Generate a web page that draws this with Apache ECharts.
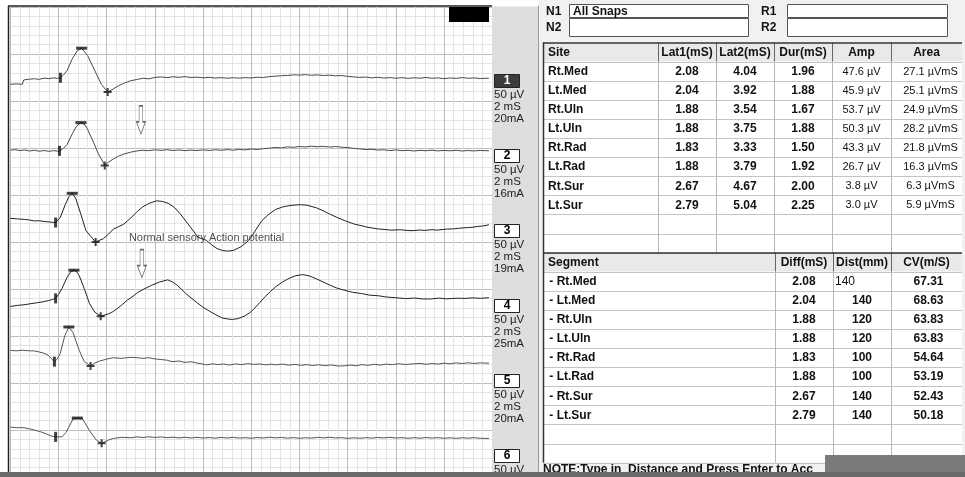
<!DOCTYPE html>
<html>
<head>
<meta charset="utf-8">
<script src="https://cdn.jsdelivr.net/npm/echarts@6/dist/echarts.min.js"></script>
<style>
  html, body { margin: 0; padding: 0; background: #fff; }
  #chart { width: 965px; height: 477px; }
</style>
</head>
<body>
<div id="chart"></div>
<script>
// ---- table data ----
const sites = ['Rt.Med', 'Lt.Med', 'Rt.Uln', 'Lt.Uln', 'Rt.Rad', 'Lt.Rad', 'Rt.Sur', 'Lt.Sur'];
const lat1  = [2.08, 2.04, 1.88, 1.88, 1.83, 1.88, 2.67, 2.79];
const lat2  = [4.04, 3.92, 3.54, 3.75, 3.33, 3.79, 4.67, 5.04];
const dur   = [1.96, 1.88, 1.67, 1.88, 1.50, 1.92, 2.00, 2.25];
const amp   = [47.6, 45.9, 53.7, 50.3, 43.3, 26.7, 3.8, 3.0];
const area  = [27.1, 25.1, 24.9, 28.2, 21.8, 16.3, 6.3, 5.9];
const diff  = [2.08, 2.04, 1.88, 1.88, 1.83, 1.88, 2.67, 2.79];
const dist  = [140, 140, 120, 120, 100, 100, 140, 140];
const cv    = [67.31, 68.63, 63.83, 63.83, 54.64, 53.19, 52.43, 50.18];

// ---- trace settings (channel labels) ----
const traceNo   = ['1', '2', '3', '4', '5', '6'];
const sensLabel = ['50 µV', '50 µV', '50 µV', '50 µV', '50 µV', '50 µV'];
const sweepLabel = ['2 mS', '2 mS', '2 mS', '2 mS', '2 mS', '2 mS'];
const stimLabel = ['20mA', '16mA', '19mA', '25mA', '20mA', '20mA'];

// ---- waveforms: [ms, µV relative to the trace baseline] ----
const trace1 = [[0,-6.2],[0.25,-5.8],[0.5,-6.2],[0.56,-1.6],[0.75,-0.9],[1.0,-0.3],[1.2,-1.0],[1.4,0.4],[1.6,-0.2],[1.8,0.6],[1.95,0.1],[2.08,0.7],[2.2,3.5],[2.36,8.6],[2.57,20.8],[2.78,29.5],[2.96,32.2],[3.21,24.3],[3.5,8.6],[3.78,-6.2],[4.04,-14.5],[4.28,-11.1],[4.5,-7.6],[4.71,-5.2],[5.0,-2.4],[5.28,-1.0],[5.5,0.2],[5.75,-0.4],
  [6.0,1.1],[6.25,1.6],[6.5,0.9],[6.75,1.8],[7.0,1.2],[7.25,1.9],[7.5,1.0],[7.75,1.4],[8.0,0.6],[8.25,1.2],[8.5,0.4],[8.75,0.9],[9.0,0.2],[9.25,0.8],[9.5,0.3],[9.75,0.9],[10.0,0.5],[10.25,1.3],[10.5,1.0],[10.75,2.0],[11.0,2.4],[11.25,2.9],[11.5,3.2],[11.75,3.8],[12.0,3.6],[12.25,4.0],[12.5,3.4],[12.75,3.8],[13.0,3.1],[13.25,3.5],[13.5,2.8],[13.75,3.1],[14.0,2.2],[14.25,1.6],[14.5,1.1],[14.75,1.5],[15.0,0.6],[15.25,1.2],[15.5,0.4],[15.75,0.9],[16.0,0.2],[16.25,0.8],[16.5,0.1],[16.75,0.7],[17.0,0.3],[17.25,1.0],[17.5,0.2],[17.75,0.6],[18.0,-0.2],[18.25,0.5],[18.5,0.1],[18.75,0.9],[19.0,0.2],[19.25,0.6],[19.5,-0.1],[19.86,0.3]];

const trace2 = [[0,0.7],[0.2,1.2],[0.4,0.3],[0.6,0.9],[0.8,-0.2],[1.0,0.6],[1.2,-0.4],[1.4,0.3],[1.6,-0.5],[1.8,0.2],[1.95,-0.3],[2.04,0],[2.2,2.5],[2.36,6.9],[2.57,18],[2.74,26],[2.93,30],[3.1,27.5],[3.21,22.5],[3.43,10.4],[3.64,-2.4],[3.92,-15.5],[4.07,-12.1],[4.28,-8.6],[4.5,-5.5],[4.71,-3.5],[5.0,-1.4],[5.28,0],[5.5,0.6],[5.75,0.2],
  [6.0,1.1],[6.25,0.5],[6.5,1.2],[6.75,0.4],[7.0,0.9],[7.25,0.2],[7.5,0.8],[7.75,0.3],[8.0,1.0],[8.25,0.4],[8.5,1.1],[8.75,0.6],[9.0,1.3],[9.25,0.7],[9.5,1.5],[9.75,1.0],[10.0,1.9],[10.25,1.4],[10.5,2.3],[10.75,2.8],[11.0,3.6],[11.25,3.1],[11.5,4.2],[11.75,3.7],[12.0,4.6],[12.25,4.1],[12.5,4.9],[12.75,4.3],[13.0,4.8],[13.25,4.0],[13.5,4.6],[13.75,3.8],[14.0,3.5],[14.25,2.6],[14.5,2.1],[14.75,1.4],[15.0,1.6],[15.25,0.8],[15.5,1.1],[15.75,0.3],[16.0,0.9],[16.25,0.2],[16.5,0.6],[16.75,-0.2],[17.0,0.5],[17.25,0.1],[17.5,0.7],[17.75,-0.1],[18.0,0.4],[18.25,0.0],[18.5,0.6],[18.75,-0.2],[19.0,0.3],[19.25,-0.1],[19.5,0.4],[19.86,0]];

const trace3 = [[0,6.2],[0.3,5.6],[0.6,5.0],[0.8,4.4],[1.0,3.4],[1.2,3.6],[1.43,2.8],[1.65,2.2],[1.88,1.7],[2.07,6.9],[2.28,20.7],[2.43,29.3],[2.57,32.8],[2.71,27.6],[2.93,10.4],[3.14,-6.9],[3.31,-12.1],[3.54,-19],[3.86,-15.5],[4.08,-10.5],[4.28,-5.2],[4.5,-2.6],[4.71,0],[5.0,6.5],[5.28,13.8],[5.5,18.5],[5.75,22],[6.07,24.8],[6.3,24.2],[6.55,22.2],[6.8,18],[7.05,11],[7.28,3.4],[7.5,-4],[7.78,-13.8],[8.0,-16],[8.14,-17.3],[8.35,-22],[8.57,-25.9],[8.8,-28],[9.0,-28.7],[9.25,-28],[9.57,-24.1],[9.8,-19.5],[10.0,-13.8],[10.2,-5.5],[10.43,3.4],[10.7,10],[11.0,15.5],[11.3,18.3],[11.6,19.8],[12.0,20.7],[12.3,20.2],[12.71,17.3],[13.0,14],[13.28,10.4],[13.6,6.6],[13.9,3.5],[14.28,0],[14.6,-1.8],[14.8,-3.2],[15.28,-5.2],[15.6,-5.8],[15.8,-6.4],[16.2,-6.0],[16.5,-6.8],[16.71,-6.9],[17.0,-6.3],[17.2,-6.6],[17.5,-5.9],[17.7,-6.4],[18.14,-5.2],[18.4,-5.0],[18.6,-4.4],[19.0,-3.6],[19.2,-3.3],[19.4,-2.4],[19.6,-2.0],[19.86,-0.7]];

const trace4 = [[0,-8.6],[0.3,-7.4],[0.57,-6.8],[0.85,-5.6],[1.14,-4.5],[1.35,-3.6],[1.57,-2.4],[1.75,-1.2],[1.88,0],[2.0,4.0],[2.14,10.4],[2.36,22.5],[2.5,28],[2.64,30],[2.75,28.5],[2.86,24.2],[3.07,10.4],[3.28,-5.2],[3.5,-14.5],[3.75,-18.9],[4.07,-16.6],[4.25,-14.2],[4.43,-11],[4.65,-6.5],[4.86,-1.7],[5.05,1.5],[5.28,6.2],[5.55,10],[5.86,13.9],[6.2,17.5],[6.53,19.7],[6.73,17.5],[6.93,13.9],[7.1,9.8],[7.28,5.2],[7.5,0.5],[7.78,-5.2],[8.0,-9.5],[8.28,-13.8],[8.5,-17],[8.78,-20.7],[9.0,-21.8],[9.21,-22.4],[9.45,-21.5],[9.71,-18.9],[9.95,-15],[10.14,-10.4],[10.35,-4.5],[10.57,1.8],[10.8,7.5],[11.0,12.1],[11.3,17.5],[11.57,21.4],[11.85,24.2],[12.14,25.3],[12.4,24],[12.71,20.7],[13.0,17.2],[13.28,13.9],[13.55,11],[13.86,8.7],[14.2,6.5],[14.57,5.2],[14.9,3.5],[15.28,2.8],[15.6,1.5],[16.0,0.7],[16.4,-0.2],[16.8,0.4],[17.1,-0.6],[17.43,-0.6],[17.8,0.3],[18.1,-0.5],[18.5,0.2],[18.86,0],[19.2,0.6],[19.5,0.1],[19.86,0.7]];

const trace5 = [[0,13.8],[0.25,13.2],[0.5,13.9],[0.75,13.3],[1.0,13.1],[1.2,12.0],[1.4,10.6],[1.57,8.6],[1.7,5.0],[1.83,1.7],[1.95,4.5],[2.07,10.3],[2.26,29.3],[2.43,38.6],[2.6,32.8],[2.86,13.8],[3.07,1.7],[3.33,-2.8],[3.5,0.2],[3.71,2.4],[4.0,4.4],[4.28,5.9],[4.6,5.2],[5.0,6.3],[5.28,5.9],[5.5,5.2],[5.75,5.9],[6.0,4.6],[6.25,4.0],[6.5,3.3],[6.71,1.7],[7.0,2.4],[7.25,0.9],[7.5,1.6],[7.75,0.2],[8.0,-0.9],[8.14,-1.7],[8.4,-0.6],[8.6,-1.4],[8.85,-0.8],[9.1,-1.9],[9.35,-0.7],[9.6,-1.5],[9.85,-0.4],[10.1,-1.2],[10.35,-0.8],[10.6,-1.7],[10.85,-1.0],[11.0,-1.7],[11.3,-0.9],[11.55,-2.0],[11.8,-1.2],[12.05,-2.2],[12.3,-1.4],[12.55,-2.4],[12.8,-1.6],[13.05,-2.6],[13.3,-1.8],[13.6,-2.9],[13.86,-2.8],[14.1,-1.9],[14.35,-2.6],[14.6,-1.5],[14.85,-2.2],[15.1,-1.1],[15.35,-1.9],[15.6,-0.9],[15.85,-1.6],[16.1,-0.5],[16.4,-1.3],[16.71,-0.7],[17.0,-0.2],[17.25,-1.1],[17.5,-0.3],[17.75,-0.9],[18.0,0.2],[18.25,-0.6],[18.5,0.4],[18.75,-0.3],[19.0,0.5],[19.25,-0.2],[19.5,0.4],[19.86,0]];

const trace6 = [[0,12.1],[0.25,11.5],[0.57,11.4],[0.8,10.2],[1.0,9.0],[1.28,6.9],[1.5,4.8],[1.7,2.6],[1.88,1.7],[2.14,1.7],[2.3,6],[2.43,12.1],[2.6,20.7],[2.78,21.7],[3.0,20.7],[3.28,8.6],[3.57,-1.7],[3.79,-5.2],[4.07,-1.7],[4.28,0],[4.6,1.2],[5.0,0.8],[5.28,1.7],[5.5,1.0],[5.75,1.8],[6.0,1.1],[6.25,1.6],[6.5,0.8],[6.75,1.4],[7.0,0.6],[7.25,1.3],[7.5,0.5],[7.75,1.2],[8.0,0.4],[8.25,1.0],[8.5,0.3],[8.75,1.1],[9.0,0.5],[9.25,1.2],[9.5,0.4],[9.75,0.9],[10.0,0.2],[10.25,1.0],[10.5,0.5],[10.75,1.3],[11.0,0.7],[11.25,1.1],[11.5,0.3],[11.75,0.9],[12.0,0.2],[12.25,0.8],[12.5,0.4],[12.75,1.2],[13.0,0.6],[13.25,1.3],[13.5,0.5],[13.75,0.9],[14.0,0.1],[14.25,0.7],[14.5,0.2],[14.75,0.9],[15.0,0.4],[15.25,1.1],[15.5,0.6],[15.75,1.2],[16.0,0.5],[16.25,0.9],[16.5,0.2],[16.75,0.8],[17.0,0.3],[17.25,1.0],[17.5,0.4],[17.75,0.9],[18.0,0.2],[18.25,0.7],[18.5,0.1],[18.75,0.8],[19.0,0.3],[19.25,0.9],[19.5,0.2],[19.86,0]];

// annotations in trace space [ms, axis µV]
const noteText = 'Normal sensory Action potential';
const notePos  = [4.9, 254];
const arrowPos = [[5.42, 380], [5.46, 227]];

// ---- layout ----
const traces = [trace1, trace2, trace3, trace4, trace5, trace6];
const baseline = [424, 347, 269, 190, 121, 41];          // axis µV where each trace sits
const traceColor = ['#4a4a4a', '#4a4a4a', '#222', '#222', '#555', '#555'];
const FONT = '"Liberation Sans", Arial, sans-serif';
const NARROW = '"Liberation Sans Narrow", "Liberation Sans", sans-serif';

function near(d, t) { return d.reduce((a, b) => Math.abs(b[0] - t) < Math.abs(a[0] - t) ? b : a); }
const onsetPts = [], peakPts = [], troughPts = [];
traces.forEach((d, i) => {
  const on = near(d, lat1[i]), tr = near(d, lat2[i]);
  const pk = d.filter(p => p[0] >= lat1[i] && p[0] <= lat2[i]).reduce((a, b) => b[1] > a[1] ? b : a);
  onsetPts.push([on[0], on[1] + baseline[i]]);
  peakPts.push([pk[0], pk[1] + baseline[i]]);
  troughPts.push([tr[0], tr[1] + baseline[i]]);
});

const series = traces.map((d, i) => ({
  type: 'line', name: sites[i], data: d.map(p => [p[0], p[1] + baseline[i]]),
  symbol: 'none', lineStyle: { color: traceColor[i], width: 1 }, silent: true, z: 3
}));
series.push(
  { type: 'scatter', data: onsetPts, symbol: 'rect', symbolSize: [3, 10], itemStyle: { color: '#111' }, z: 5, silent: true },
  { type: 'scatter', data: peakPts, symbol: 'rect', symbolSize: [11, 3], itemStyle: { color: '#111' }, z: 5, silent: true },
  { type: 'scatter', data: troughPts, symbol: 'path://M3,0H5V3H8V5H5V8H3V5H0V3H3Z', symbolSize: [8, 8], itemStyle: { color: '#111' }, z: 5, silent: true },
  { type: 'scatter', data: arrowPos, symbol: 'path://M3,0L7,0L7,16L10,16L5,28L0,16L3,16Z', symbolSize: [9, 28],
    itemStyle: { color: '#fff', borderColor: '#444', borderWidth: 1 }, z: 6, silent: true },
  { type: 'scatter', data: [notePos], symbolSize: 1, itemStyle: { color: 'rgba(0,0,0,0)' }, z: 6, silent: true,
    label: { show: true, position: 'right', distance: 0, formatter: noteText, color: '#222', fontSize: 11, fontFamily: FONT } }
);

// ---- panel graphics ----
const G = [];
function rect(x, y, w, h, fill, stroke, z) {
  G.push({ type: 'rect', shape: { x, y, width: w, height: h }, style: { fill, stroke: stroke || null, lineWidth: 1 }, z: z || 10, silent: true });
}
function line(x1, y1, x2, y2, stroke, w, z) {
  G.push({ type: 'line', shape: { x1, y1, x2, y2 }, style: { stroke, lineWidth: w || 1 }, z: z || 12, silent: true });
}
function text(x, y, s, font, align, fill, z) {
  G.push({ type: 'text', x, y, style: { text: s, font, fill: fill || '#111', align: align || 'left', textAlign: align || 'left',
    verticalAlign: 'middle', textVerticalAlign: 'middle' }, z: z || 14, silent: true });
}
const B12 = 'bold 12px ' + FONT, R11 = '11px ' + FONT;

// frame of trace area
line(8, 6, 492, 6, '#222', 1.5, 20);
line(8.5, 6, 8.5, 477, '#222', 1.5, 20);
rect(449, 7, 40, 15, '#000', null, 20);

// channel label column
rect(492, 6.5, 46, 471, '#dedede', null, 10);
traceNo.forEach((n, i) => {
  const cy = 81 + 75 * i;
  rect(494.5, cy - 6.5, 25, 13, i === 0 ? '#3c3c3c' : '#fff', '#222', 12);
  text(507, cy, n, B12, 'center', i === 0 ? '#fff' : '#000');
  text(494, cy + 14, sensLabel[i], '11.5px ' + NARROW, 'left', '#222');
  text(494, cy + 26, sweepLabel[i], '11.5px ' + NARROW, 'left', '#222');
  text(494, cy + 37.5, stimLabel[i], '11.5px ' + NARROW, 'left', '#222');
});

// right panel
rect(538, 0, 427, 477, '#f1f1f1', null, 10);
line(538.5, 6, 538.5, 477, '#9a9a9a', 1, 11);
text(546, 11.5, 'N1', B12); text(546, 28, 'N2', B12);
text(761, 11.5, 'R1', B12); text(761, 28, 'R2', B12);
rect(569.5, 4.5, 179, 13, '#fff', '#555', 12);
rect(569.5, 18.5, 179, 18, '#fff', '#555', 12);
rect(787.5, 4.5, 160, 13, '#fff', '#555', 12);
rect(787.5, 18.5, 160, 18, '#fff', '#555', 12);
text(573, 11.5, 'All Snaps', B12);

function table(cols, top, rowH, header, headAlign, rows, nRows) {
  const x0 = cols[0], x1 = cols[cols.length - 1];
  rect(x0, top, x1 - x0, rowH * (nRows + 1), '#fff', null, 11);
  rect(x0, top, x1 - x0, rowH, '#e9e9e9', null, 11);
  for (let r = 1; r <= nRows + 1; r++) line(x0, Math.round(top + rowH * r) + 0.5, x1, Math.round(top + rowH * r) + 0.5, '#c4c4c4', 1);
  cols.slice(1, -1).forEach(cx => {
    line(cx + 0.5, top, cx + 0.5, top + rowH, '#666', 1);
    line(cx + 0.5, top + rowH, cx + 0.5, top + rowH * (nRows + 1), '#b8b8b8', 1);
  });
  line(x0, top + 0.5, x1, top + 0.5, '#333', 1.5, 13);
  line(x0 + 0.5, top, x0 + 0.5, top + rowH * (nRows + 1), '#333', 1.5, 13);
  header.forEach((h, c) => {
    const a = headAlign[c];
    const tx = a === 'left' ? cols[c] + 5 : (cols[c] + cols[c + 1]) / 2;
    text(tx, top + rowH / 2 + 0.5, h, B12, a);
  });
  rows.forEach((cells, r) => {
    const cy = top + rowH * (r + 1.5) + 0.5;
    cells.forEach((cell, c) => {
      if (!cell) return;
      const tx = cell.align === 'left' ? cols[c] + (cell.pad || 5) : (cols[c] + cols[c + 1]) / 2 + (cell.dx || 0);
      text(tx, cy, cell.t, cell.f || B12, cell.align || 'center');
    });
  });
}

table([543, 658, 716, 774, 832, 891, 962], 42.5, 19.1,
  ['Site', 'Lat1(mS)', 'Lat2(mS)', 'Dur(mS)', 'Amp', 'Area'],
  ['left', 'center', 'center', 'center', 'center', 'center'],
  sites.map((s, i) => [
    { t: s, align: 'left' },
    { t: lat1[i].toFixed(2) }, { t: lat2[i].toFixed(2) }, { t: dur[i].toFixed(2) },
    { t: amp[i].toFixed(1) + ' µV', f: R11 },
    { t: area[i].toFixed(1) + ' µVmS', f: R11, dx: 4 }
  ]), 10);

table([543, 775, 833, 891, 962], 252.5, 19.1,
  ['Segment', 'Diff(mS)', 'Dist(mm)', 'CV(m/S)'],
  ['left', 'center', 'center', 'center'],
  sites.map((s, i) => [
    { t: ' - ' + s, align: 'left', pad: 3 },
    { t: diff[i].toFixed(2) },
    i === 0 ? { t: String(dist[i]), align: 'left', pad: 2, f: '12px ' + FONT } : { t: String(dist[i]) },
    { t: cv[i].toFixed(2), dx: 2 }
  ]), 10);

text(543, 470, 'NOTE:Type in  Distance and Press Enter to Acc', B12, 'left', '#111', 14);
rect(825, 455, 140, 22, '#7b7b7b', null, 30);
rect(0, 472, 965, 5, '#6a6a6a', null, 31);

const chart = echarts.init(document.getElementById('chart'), null, { renderer: 'canvas' });
chart.setOption({
  animation: false,
  backgroundColor: '#fff',
  grid: { left: 10.3, top: 7, width: 482, height: 483, containLabel: false },
  xAxis: {
    type: 'value', min: 0, max: 20, interval: 2,
    axisLine: { show: false }, axisTick: { show: false }, axisLabel: { show: false },
    splitLine: { show: true, lineStyle: { color: '#bdbdbd', width: 1 } },
    minorTick: { show: false, splitNumber: 5 },
    minorSplitLine: { show: true, lineStyle: { color: '#e4e4e4', width: 1 } }
  },
  yAxis: {
    type: 'value', min: 0, max: 500, interval: 50,
    axisLine: { show: false }, axisTick: { show: false }, axisLabel: { show: false },
    splitLine: { show: true, lineStyle: { color: '#bdbdbd', width: 1 } },
    minorTick: { show: false, splitNumber: 5 },
    minorSplitLine: { show: true, lineStyle: { color: '#e4e4e4', width: 1 } }
  },
  series,
  graphic: { elements: G }
});
</script>
</body>
</html>
